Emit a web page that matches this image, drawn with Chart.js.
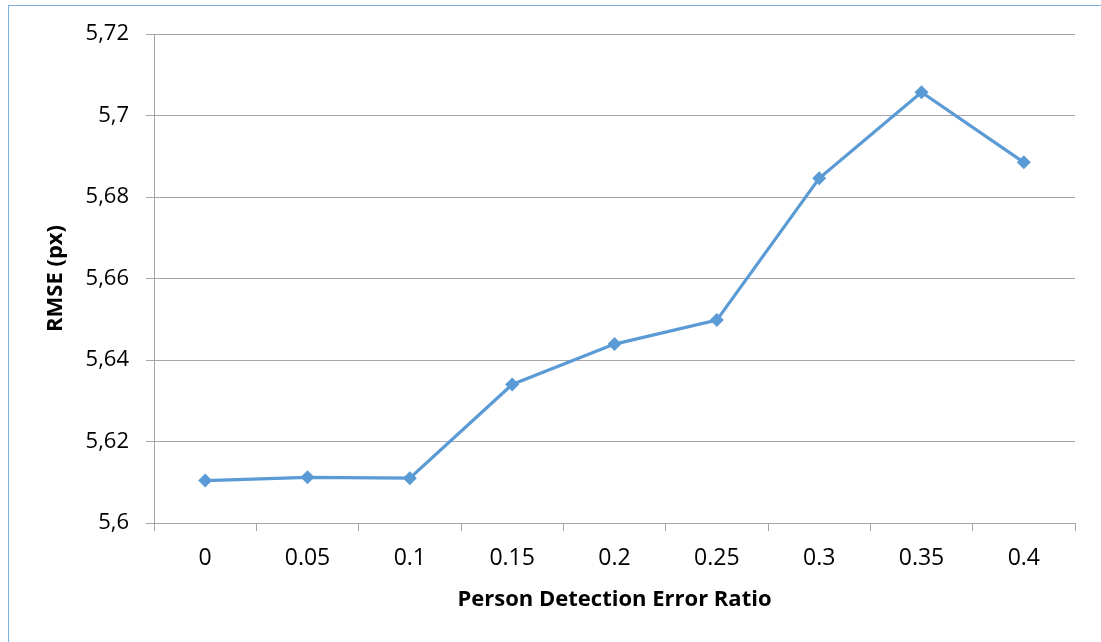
<!DOCTYPE html>
<html>
<head>
<meta charset="utf-8">
<script src="https://cdn.jsdelivr.net/npm/chart.js@4.4.1/dist/chart.umd.min.js"></script>
<style>
  html, body { margin: 0; padding: 0; background: #ffffff; }
  #wrap { position: relative; width: 1101px; height: 642px; overflow: hidden; }
  #frame { position: absolute; left: 8px; top: 5px; width: 1100px; height: 640px;
           border-left: 1px solid #7eb1df; border-top: 1px solid #7eb1df; }
  canvas { position: absolute; left: 0; top: 0; }
</style>
</head>
<body>
<div id="wrap">
  <div id="frame"></div>
  <canvas id="c" width="1101" height="642"></canvas>
</div>
<script>
const categories = ["0", "0.05", "0.1", "0.15", "0.2", "0.25", "0.3", "0.35", "0.4"];
const rmseValues = [5.6104, 5.6112, 5.6110, 5.6340, 5.6439, 5.6498, 5.6846, 5.7057, 5.6885];
const yMin = 5.6, yMax = 5.72, yStep = 0.02;
const xTitle = "Person Detection Error Ratio";
const yTitle = "RMSE (px)";

const gridColor = "#a6a6a6";
const lineColor = "#5b9bd5";

new Chart(document.getElementById("c"), {
  type: "line",
  data: {
    labels: categories,
    datasets: [{
      data: rmseValues,
      borderColor: lineColor,
      backgroundColor: lineColor,
      borderWidth: 3.2,
      pointStyle: "rectRot",
      pointRadius: 7,
      pointHoverRadius: 7,
      pointBorderWidth: 0,
      tension: 0,
      fill: false
    }]
  },
  options: {
    responsive: false,
    animation: false,
    devicePixelRatio: 1,
    layout: { padding: { left: 0, right: 26, top: 34, bottom: 0 } },
    plugins: { legend: { display: false }, tooltip: { enabled: false } },
    scales: {
      x: {
        type: "category",
        offset: true,
        grid: { offset: true, drawOnChartArea: false, drawTicks: true, tickLength: 8, color: gridColor, lineWidth: 1 },
        border: { display: true, color: gridColor, width: 1 },
        ticks: { color: "#000", font: { family: "Open Sans", size: 23 }, padding: 14, maxRotation: 0 },
        title: { display: true, text: xTitle, color: "#000", font: { family: "Open Sans", size: 22, weight: "bold" }, padding: { top: 6, bottom: 29 } },
        afterFit: (s) => { s.height = 119; }
      },
      y: {
        min: yMin, max: yMax,
        grid: { color: gridColor, lineWidth: 1, tickLength: 8, drawTicks: true },
        border: { display: true, color: gridColor, width: 1 },
        ticks: {
          stepSize: yStep, color: "#000", font: { family: "Open Sans", size: 22 }, padding: 17,
          callback: (v) => Number(v.toFixed(2)).toString().replace(".", ",")
        },
        title: { display: true, text: yTitle, color: "#000", font: { family: "Open Sans", size: 22, weight: "bold" }, padding: { top: 43, bottom: 0 } },
        afterFit: (s) => { s.width = 154; }
      }
    }
  }
});
</script>
</body>
</html>
